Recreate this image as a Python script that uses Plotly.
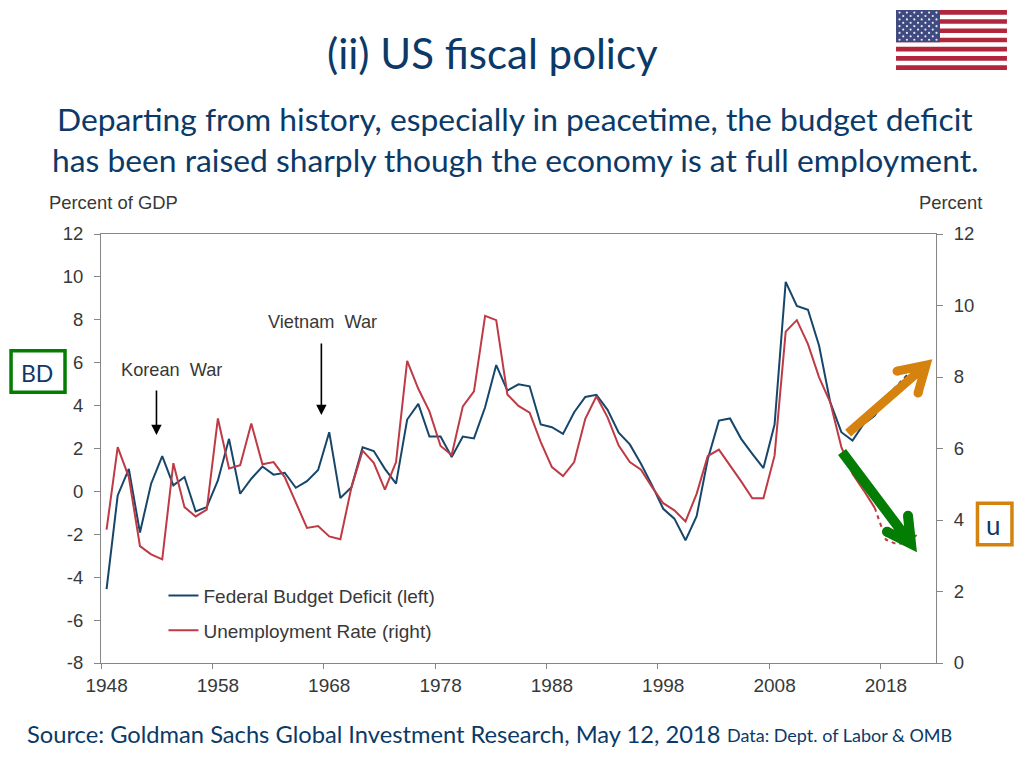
import plotly.graph_objects as go

# The page has an 8px body margin, so the figure box starts at (8, 8).
PAGE = 8
W, H = 1008, 752
PL, PR, PT, PB = 100.5, 936, 233.5, 663.5

years = [str(y) for y in range(1948, 2023)]
deficit = [-4.56,-0.19,1.05,-1.92,0.36,1.64,0.28,0.67,-0.93,-0.73,0.51,2.45,-0.11,0.59,1.16,0.78,0.87,0.17,0.48,1.0,
           2.76,-0.31,0.2,2.06,1.88,1.05,0.36,3.35,4.08,2.56,2.56,1.6,2.56,2.47,3.92,5.89,4.7,4.99,4.9,3.12,
           2.99,2.68,3.69,4.4,4.5,3.8,2.74,2.19,1.29,0.28,-0.81,-1.27,-2.28,-1.16,1.5,3.3,3.4,2.45,1.75,1.09,
           3.12,9.77,8.65,8.47,6.79,4.16,2.76,2.37,3.15,3.53]
unemp = [3.73,6.04,5.2,3.27,3.04,2.9,5.59,4.36,4.1,4.29,6.84,5.44,5.53,6.7,5.56,5.62,5.2,4.5,3.78,3.83,
         3.54,3.46,4.92,5.94,5.6,4.85,5.62,8.45,7.67,7.04,6.07,5.82,7.18,7.6,9.71,9.59,7.51,7.19,7.0,6.18,
         5.48,5.23,5.62,6.83,7.46,6.87,6.08,5.62,5.41,4.92,4.47,4.27,3.96,4.73,5.79,5.97,5.53,5.08,4.61,4.61,
         5.8,9.27,9.59,8.92,7.99,7.29,6.04,5.29,4.83,4.34]
fc_years = ["2017", "2018", "2019", "2020", "2021"]
deficit_fc = [3.53, 4.4, 4.93, 5.47, 5.6]
unemp_fc = [4.34, 3.45, 3.32, 3.39, 3.64]
left_ticks = [-8, -6, -4, -2, 0, 2, 4, 6, 8, 10, 12]
left_tick_labels = ["-8", "-6", "-4", "-2", "0", "2", "4", "6", "8", "10", "12"]
right_ticks = [0, 2, 4, 6, 8, 10, 12]

NAVY = "#17466B"
RED = "#BE3A44"
GREY = "#868686"
TXT = "#383838"
HEAD = "#0B3A68"
ORANGE = "#D5820F"
GREEN = "#047D04"

fig = go.Figure()
fig.add_trace(go.Scatter(x=years[:len(deficit)], y=deficit, mode="lines", name="Federal Budget Deficit (left)",
                         line=dict(color=NAVY, width=2), legendgroup="a"))
fig.add_trace(go.Scatter(x=fc_years, y=deficit_fc, mode="lines", showlegend=False,
                         line=dict(color=NAVY, width=2, dash="4px,4px")))
fig.add_trace(go.Scatter(x=years[:len(unemp)], y=unemp, mode="lines", name="Unemployment Rate (right)", yaxis="y2",
                         line=dict(color=RED, width=2), legendgroup="b"))
fig.add_trace(go.Scatter(x=fc_years, y=unemp_fc, mode="lines", showlegend=False, yaxis="y2",
                         line=dict(color=RED, width=2, dash="4px,4px")))

def px(x): return (x - PL) / (PR - PL)
def py(y): return (PB - y) / (PB - PT)

shapes, ann = [], []
def text(x, y, s, size, color=TXT, family="Liberation Sans", anchor="center"):
    ann.append(dict(x=px(x), y=py(y), xref="paper", yref="paper", text=s, showarrow=False, xanchor=anchor,
                    yanchor="middle", font=dict(size=size, color=color, family=family)))
def rect(x0, y0, x1, y1, fill=None, line=None, lw=0):
    shapes.append(dict(type="rect", xref="paper", yref="paper", x0=px(x0), x1=px(x1), y0=py(y0), y1=py(y1),
                       fillcolor=fill or "rgba(0,0,0,0)", line=dict(color=line or "rgba(0,0,0,0)", width=lw), layer="above"))
def dot(x, y, r, color):
    shapes.append(dict(type="circle", xref="paper", yref="paper", x0=px(x-r), x1=px(x+r), y0=py(y-r), y1=py(y+r),
                       fillcolor=color, line=dict(width=0), layer="above"))
def arrow(start, vertex, b1, b2, color, w):
    p = lambda q: f"{px(q[0])},{py(q[1])}"
    shapes.append(dict(type="path", xref="paper", yref="paper",
                       path=f"M {p(start)} L {p(vertex)} M {p(b1)} L {p(vertex)} L {p(b2)}",
                       line=dict(color=color, width=w), layer="above"))
    dot(b1[0], b1[1], w / 2, color)
    dot(b2[0], b2[1], w / 2, color)

FONT = "Lato"
text(492, 52, "(ii) US fiscal policy", 42, HEAD, FONT)
text(515, 118, "Departing from history, especially in peacetime, the budget deficit", 31.8, HEAD, FONT)
text(515, 159, "has been raised sharply though the economy is at full employment.", 31.8, HEAD, FONT)
text(46, 202, "Percent of GDP", 18.4, TXT, anchor="left")
text(984, 202, "Percent", 18.4, TXT, anchor="right")
text(171, 370, "Korean  War", 18.2)
text(322, 322, "Vietnam  War", 18.2)
text(24, 735, "Source: Goldman Sachs Global Investment Research, May 12, 2018", 23.7, HEAD, FONT, "left")
text(725, 736, "Data: Dept. of Labor &amp; OMB", 18, HEAD, FONT, "left")
text(36, 373, "BD", 23, HEAD, FONT)
text(994, 525, "u", 26, HEAD, FONT)

for x, y0, y1 in ((156, 389, 435), (321, 342, 415)):
    ann.append(dict(x=px(x), y=py(y1), ax=0, ay=y0 - y1, xref="paper", yref="paper", axref="pixel", ayref="pixel",
                    text="", showarrow=True, arrowhead=2, arrowsize=1.3, arrowwidth=1.6, arrowcolor="#000000"))

rect(10.5, 350.5, 64.5, 392, None, GREEN, 3.5)
rect(977.5, 503.5, 1012, 545, None, ORANGE, 3.5)

arrow((848, 433), (926, 365), (897, 371), (918, 393), ORANGE, 9)
arrow((842, 452), (911, 544), (887, 532), (908, 516), GREEN, 10)

FX0, FX1, FY0, FY1 = 896, 1007, 9, 69
sh = (FY1 - FY0) / 13
for i in range(13):
    if i % 2 == 0:
        rect(FX0, FY0 + i * sh, FX1, FY0 + (i + 1) * sh, "#B2263C")
rect(FX0, FY0, 940, FY0 + 7 * sh, "#3F4A80")
for row in range(9):
    n = 6 if row % 2 == 0 else 5
    for c in range(n):
        off = 0 if row % 2 == 0 else 3.7
        dot(FX0 + 3.5 + off + c * 7.4, FY0 + 2.6 + row * 3.4, 1.1, "#E8E8F0")

xfont = dict(size=19, color=TXT, family="Liberation Sans")
yfont = dict(size=18.5, color=TXT, family="Liberation Sans")
fig.update_layout(
    width=W, height=H, autosize=False, plot_bgcolor="white", paper_bgcolor="white",
    margin=dict(l=PL - PAGE, r=W + PAGE - PR, t=PT - PAGE, b=H + PAGE - PB, autoexpand=False),
    xaxis=dict(type="category", categoryorder="array", categoryarray=years, range=[-0.5, 74.5],
               tickmode="linear", tick0=0, dtick=10, tickson="boundaries",
               ticks="outside", ticklen=5, tickcolor=GREY, showline=True, linecolor=GREY, linewidth=1,
               showgrid=False, zeroline=False, tickfont=xfont, tickangle=0, mirror=True, ticklabelstandoff=5),
    yaxis=dict(range=[-8, 12], tickvals=left_ticks, ticktext=left_tick_labels, ticks="outside", ticklen=6, tickcolor=GREY,
               showline=True, linecolor=GREY, showgrid=False, zeroline=False, tickfont=yfont, ticklabelstandoff=7),
    yaxis2=dict(range=[0, 12], tickvals=right_ticks, overlaying="y", side="right", ticks="outside", ticklen=6,
                tickcolor=GREY, showline=True, linecolor=GREY, showgrid=False, zeroline=False, tickfont=yfont, ticklabelstandoff=7),
    legend=dict(x=px(163), y=py(577), xanchor="left", yanchor="top", bgcolor="rgba(0,0,0,0)",
                font=dict(size=19, color=TXT, family="Liberation Sans"), tracegroupgap=7, itemwidth=30,
                orientation="v"),
    shapes=shapes, annotations=ann, showlegend=True,
)
fig.write_html("out.html")
